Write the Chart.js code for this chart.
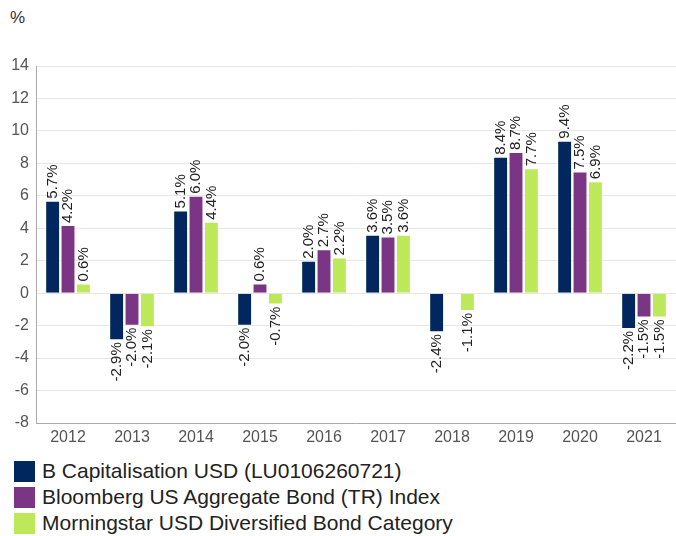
<!DOCTYPE html>
<html>
<head>
<meta charset="utf-8">
<script src="https://cdn.jsdelivr.net/npm/chart.js@4"></script>
<style>
    body { margin: 0; background: #fff; font-family: "Liberation Sans", Arial, sans-serif; }
    #wrap { position: relative; width: 676px; height: 536px; }
    #unit { position: absolute; left: 10px; top: 8px; font-size: 17px; color: #333; }
    #chartBox { position: absolute; left: 0; top: 0; width: 676px; height: 450px; }
    #legend { position: absolute; left: 14px; top: 458px; }
    .item { display: flex; align-items: center; height: 26px; font-size: 21px; color: #222; white-space: nowrap; }
    .swatch { width: 21px; height: 21px; margin-right: 7px; flex: none; }
</style>
</head>
<body>
<div id="wrap">
    <div id="unit">%</div>
    <div id="chartBox"><canvas id="returns-chart"></canvas></div>
    <div id="legend"></div>
</div>
<script>
const years = ["2012", "2013", "2014", "2015", "2016", "2017", "2018", "2019", "2020", "2021"];
const fundValues = [5.7, -2.9, 5.1, -2.0, 2.0, 3.6, -2.4, 8.4, 9.4, -2.2];
const indexValues = [4.2, -2.0, 6.0, 0.6, 2.7, 3.5, null, 8.7, 7.5, -1.5];
const categoryValues = [0.6, -2.1, 4.4, -0.7, 2.2, 3.6, -1.1, 7.7, 6.9, -1.5];
const seriesNames = [
    "B Capitalisation USD (LU0106260721)",
    "Bloomberg US Aggregate Bond (TR) Index",
    "Morningstar USD Diversified Bond Category",
];
const seriesColors = ["#00285e", "#7b3585", "#bde85a"];

// rotated value labels above / below each bar
const barLabels = {
    id: "barLabels",
    afterDatasetsDraw(chart) {
        const ctx = chart.ctx;
        ctx.save();
        ctx.font = "15px 'Liberation Sans', Arial, sans-serif";
        ctx.fillStyle = "#222";
        ctx.textBaseline = "middle";
        chart.data.datasets.forEach((ds, i) => {
            chart.getDatasetMeta(i).data.forEach((bar, j) => {
                const v = ds.data[j];
                if (v === null) return;
                ctx.save();
                ctx.translate(bar.x, bar.y + (v < 0 ? 2 : -2));
                ctx.rotate(-Math.PI / 2);
                ctx.textAlign = v < 0 ? "right" : "left";
                ctx.fillText(v.toFixed(1) + "%", 0, 0);
                ctx.restore();
            });
        });
        ctx.restore();
    },
};

function renderChart() {
    const ctx = document.getElementById("returns-chart").getContext("2d");
    new Chart(ctx, {
        type: "bar",
        data: {
            labels: years,
            datasets: [fundValues, indexValues, categoryValues].map((vals, i) => ({
                label: seriesNames[i],
                data: vals,
                backgroundColor: seriesColors[i],
                borderColor: "rgba(255,255,255,0.6)",
                borderWidth: 1,
                categoryPercentage: 0.72,
                barPercentage: 0.97,
            })),
        },
        options: {
            responsive: true,
            maintainAspectRatio: false,
            animation: false,
            layout: { padding: { top: 66, right: 0, left: 0, bottom: 0 } },
            plugins: {
                legend: { display: false },
                tooltip: { enabled: false },
            },
            scales: {
                x: {
                    grid: { display: false, drawTicks: false },
                    border: { color: "#aaa" },
                    ticks: { color: "#555", font: { size: 16, family: "'Liberation Sans', Arial" }, padding: 5 },
                    afterFit: (s) => { s.height = 27; },
                },
                y: {
                    min: -8,
                    max: 14,
                    ticks: { stepSize: 2, color: "#555", font: { size: 16, family: "'Liberation Sans', Arial" }, padding: 7 },
                    grid: { color: "#e6e6e6", drawTicks: false },
                    border: { color: "#aaa" },
                    afterFit: (s) => { s.width = 36; },
                },
            },
        },
        plugins: [barLabels],
    });
}

function renderLegend() {
    const legend = document.getElementById("legend");
    seriesNames.forEach((name, i) => {
        const item = document.createElement("div");
        item.className = "item";
        item.innerHTML = `<span class="swatch" style="background:${seriesColors[i]}"></span>${name}`;
        legend.appendChild(item);
    });
}

renderChart();
renderLegend();
</script>
</body>
</html>
